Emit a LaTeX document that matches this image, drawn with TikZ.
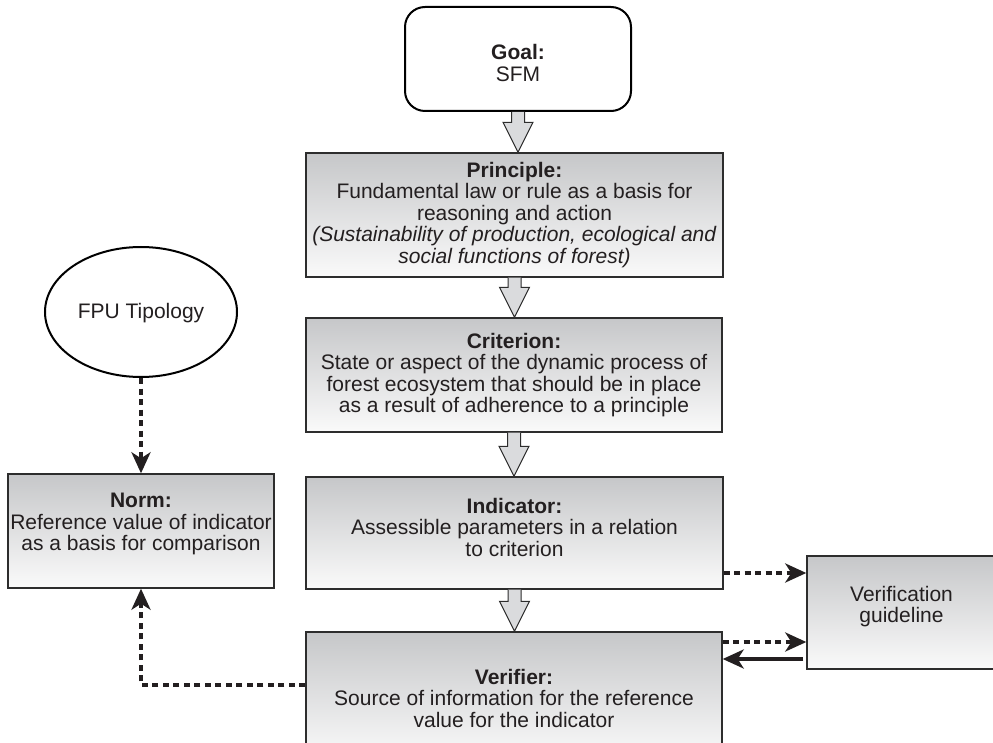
\documentclass[tikz,border=0pt]{standalone}
\usepackage{fontspec}
\setmainfont{Liberation Sans}
\usetikzlibrary{shapes.geometric,arrows.meta,calc}

\definecolor{ink}{RGB}{35,31,32}
\definecolor{boxtop}{RGB}{198,199,201}
\definecolor{boxbot}{RGB}{250,250,250}
\definecolor{arrowfill}{RGB}{218,219,221}
\definecolor{edge}{RGB}{45,45,45}

\tikzset{
  panel/.style={rectangle, draw=edge, line width=1.4pt, top color=boxtop,
    bottom color=boxbot, inner sep=0pt},
  startbox/.style={rectangle, rounded corners=20pt, draw=black, line width=2pt,
    fill=white, inner sep=0pt},
  oval/.style={ellipse, draw=black, line width=2pt, fill=white, inner sep=0pt},
  txt/.style={align=center, text=ink, inner sep=0pt,
    font=\fontsize{21}{21.5}\selectfont},
  blockarrow/.style={draw=edge, line width=1pt, fill=arrowfill, line join=miter},
  headtip/.style={-{Stealth[length=21pt,width=19pt,inset=6pt]}},
  dotarrow/.style={headtip, draw=ink, line width=3.5pt, dash pattern=on 6pt off 4.5pt},
  solidarrow/.style={headtip, draw=ink, line width=3.5pt},
}

% hollow block arrow from the bottom of one box to the top of the next
\newcommand\flowarrow[2]{%
  \path[blockarrow] let \p1=(#1.south), \p2=(#2.north) in
    (\x1-6.5pt,\y1) -- (\x1-6.5pt,\y2+30pt) -- (\x1-15pt,\y2+30pt) --
    (\x1,\y2) -- (\x1+15pt,\y2+30pt) -- (\x1+6.5pt,\y2+30pt) -- (\x1+6.5pt,\y1);}

\begin{document}
\begin{tikzpicture}[x=1pt, y=-1pt]
\useasboundingbox (0,0) rectangle (993,743);
\clip (0,0) rectangle (993,743);

% main chain of boxes
\node[startbox, minimum width=226pt, minimum height=104pt] (goal) at (518,59) {};
\node[panel, minimum width=417pt, minimum height=124pt] (prin) at (514.5,215) {};
\node[panel, minimum width=416pt, minimum height=114pt] (crit) at (514,375) {};
\node[panel, minimum width=417pt, minimum height=112pt] (ind) at (514.5,533) {};
\node[panel, minimum width=416pt, minimum height=128pt] (ver) at (514,696) {};

% side boxes
\node[oval, minimum width=192pt, minimum height=130pt] (fpu) at (141,312) {};
\node[panel, minimum width=266pt, minimum height=114pt] (norm) at (141,531) {};
\node[panel, minimum width=189pt, minimum height=113pt] (guide) at (901.5,612.5) {};

% texts
\node[txt] (goal-t) at (518,63) {\textbf{Goal:}\\SFM};
\node[txt] (prin-t) at (prin.center) {\textbf{Principle:}\\
  Fundamental law or rule as a basis for\\reasoning and action\\
  \textit{(Sustainability of production, ecological and}\\
  \textit{social functions of forest)}};
\node[txt] (crit-t) at (crit.center) {\textbf{Criterion:}\\
  State or aspect of the dynamic process of\\
  forest ecosystem that should be in place\\
  as a result of adherence to a principle};
\node[txt] (ind-t) at ($(ind.center)+(0,-6)$) {\textbf{Indicator:}\\
  Assessible parameters in a relation\\to criterion};
\node[txt] (ver-t) at (514,698) {\textbf{Verifier:}\\
  Source of information for the reference\\value for the indicator};
\node[txt] (fpu-t) at ($(fpu.center)+(0,1)$) {FPU Tipology};
\node[txt] (norm-t) at ($(norm.center)+(0,-7)$) {\textbf{Norm:}\\
  Reference value of indicator\\as a basis for comparison};
\node[txt] (guide-t) at ($(guide.center)+(0,-6)$) {Verification\\guideline};

% block arrows down the chain
\flowarrow{goal}{prin}
\flowarrow{prin}{crit}
\flowarrow{crit}{ind}
\flowarrow{ind}{ver}

% dotted and solid connectors
\draw[dotarrow] (fpu.south) -- (norm.north);
\coordinate (v-out) at ($(ver.west)+(0,-11)$);
\draw[dotarrow] (v-out) -| (norm.south);
\coordinate (i-out) at ($(ind.east)+(0,40)$);
\draw[dotarrow] (i-out) -- (i-out -| guide.west);
\coordinate (v-east) at ($(ver.east)+(0,-54)$);
\draw[dotarrow] (v-east) -- (v-east -| guide.west);
\coordinate (g-out) at ($(guide.west)+(-3,46.5)$);
\draw[solidarrow] (g-out) -- (g-out -| ver.east);
\end{tikzpicture}
\end{document}
